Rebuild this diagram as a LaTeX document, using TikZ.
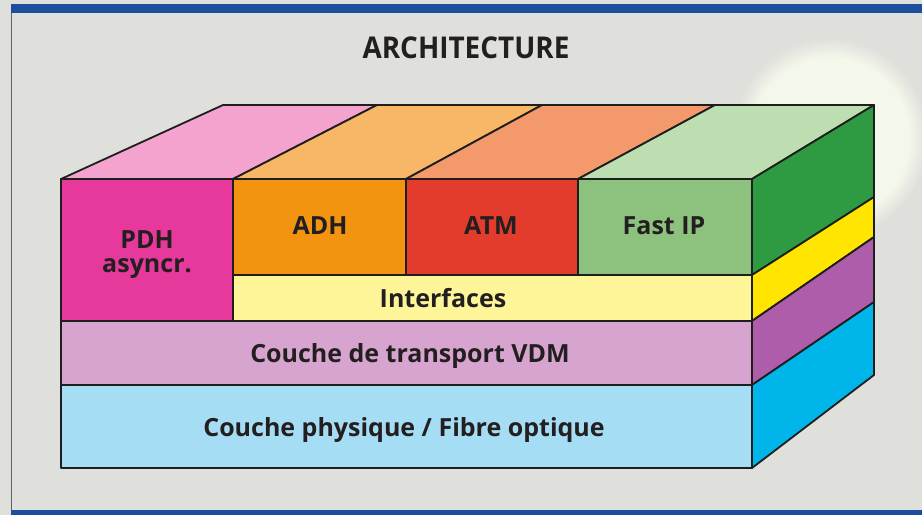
\documentclass[tikz,border=0pt]{standalone}
\usepackage{fontspec}
\setmainfont{Open Sans}
\definecolor{bgc}{HTML}{DFDFDC}
\definecolor{glowc}{HTML}{F4F8EA}
\definecolor{barblue}{HTML}{1D4E9E}
\definecolor{inkc}{HTML}{231F20}
\definecolor{edgec}{HTML}{1E1E1E}
\definecolor{pdhF}{HTML}{E6399B}
\definecolor{pdhT}{HTML}{F4A3CF}
\definecolor{adhF}{HTML}{F29410}
\definecolor{adhT}{HTML}{F7B766}
\definecolor{atmF}{HTML}{E33B2C}
\definecolor{atmT}{HTML}{F4996C}
\definecolor{ipF}{HTML}{8DC27E}
\definecolor{ipT}{HTML}{BCDEB0}
\definecolor{ipR}{HTML}{2E9A41}
\definecolor{ifF}{HTML}{FEF598}
\definecolor{ifR}{HTML}{FFE500}
\definecolor{trF}{HTML}{D7A3CF}
\definecolor{trR}{HTML}{AE5DAA}
\definecolor{phF}{HTML}{A5DDF5}
\definecolor{phR}{HTML}{00B5E9}
\pgfdeclareradialshading{glowshade}{\pgfpoint{0bp}{0bp}}{color(0bp)=(glowc); color(20bp)=(glowc); color(25bp)=(bgc); color(50bp)=(bgc)}
\begin{document}
\begin{tikzpicture}[x=1pt,y=-1pt,
  face/.style={draw=edgec,line width=1.8pt,line join=round},
  lbl/.style={text=inkc,font=\bfseries\fontsize{25}{28}\selectfont,inner sep=0pt,align=center}]
\useasboundingbox (0,0) rectangle (922,515);
% background
\fill[bgc] (0,0) rectangle (922,515);
\shade[shading=glowshade] (830,138) ellipse [x radius=98, y radius=100];
\fill[barblue] (11,4) rectangle (922,13);
\fill[barblue] (11,510) rectangle (922,515);
\draw[edgec!70,line width=0.8pt] (11,13) -- (11,510);
% title
\node[text=inkc,font=\bfseries\fontsize{30}{33}\selectfont,inner sep=0pt] (title) at (466,48) {\scalebox{0.93}[1]{ARCHITECTURE}};
% top faces
\path[face,fill=pdhT] (61,179) -- (233,179) -- (377,105) -- (223,105) -- cycle;
\path[face,fill=adhT] (233,179) -- (406,179) -- (542,105) -- (377,105) -- cycle;
\path[face,fill=atmT] (406,179) -- (578,179) -- (715,105) -- (542,105) -- cycle;
\path[face,fill=ipT] (578,179) -- (752,179) -- (874,105) -- (715,105) -- cycle;
% right faces
\path[face,fill=ipR] (752,179) -- (874,105) -- (874,197) -- (752,275) -- cycle;
\path[face,fill=ifR] (752,275) -- (874,197) -- (874,237) -- (752,321) -- cycle;
\path[face,fill=trR] (752,321) -- (874,237) -- (874,302) -- (752,385) -- cycle;
\path[face,fill=phR] (752,385) -- (874,302) -- (874,375) -- (752,468) -- cycle;
% front faces
\path[face,fill=pdhF] (61,179) rectangle (233,321);
\path[face,fill=adhF] (233,179) rectangle (406,275);
\path[face,fill=atmF] (406,179) rectangle (578,275);
\path[face,fill=ipF] (578,179) rectangle (752,275);
\path[face,fill=ifF] (233,275) rectangle (752,321);
\path[face,fill=trF] (61,321) rectangle (752,385);
\path[face,fill=phF] (61,385) rectangle (752,468);
% labels
\node[lbl] (pdh) at (147,255) {PDH\\[-4pt]asyncr.};
\node[lbl] (adh) at (320,226) {ADH};
\node[lbl] (atm) at (491,226) {ATM};
\node[lbl] (fip) at (664,226) {Fast IP};
\node[lbl] (itf) at (443,298) {Interfaces};
\node[lbl] (vdm) at (410,356) {Couche de transport VDM};
\node[lbl] (phy) at (404,430) {Couche physique / Fibre optique};
\end{tikzpicture}
\end{document}
